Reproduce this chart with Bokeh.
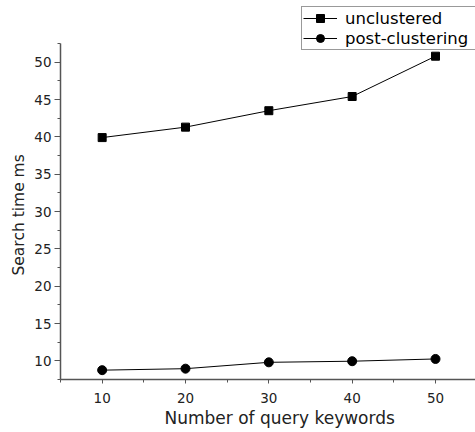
from bokeh.plotting import figure
from bokeh.models import Range1d, FixedTicker, Legend, LegendItem, Title
from bokeh.embed import file_html
from bokeh.resources import INLINE

keywords = [10, 20, 30, 40, 50]
unclustered = [39.9, 41.3, 43.5, 45.4, 50.8]
post_clustering = [8.75, 8.95, 9.8, 9.95, 10.25]

x_major = [10, 20, 30, 40, 50]
x_minor = [5, 15, 25, 35, 45, 55]
y_major = [10, 15, 20, 25, 30, 35, 40, 45, 50]
y_minor = [7.5, 12.5, 17.5, 22.5, 27.5, 32.5, 37.5, 42.5, 47.5, 52.5]

FONT = "DejaVu Sans"
AXIS_COL = "#555555"
TEXT_COL = "#222222"

W, H = 475, 432
LEFT, BOTTOM = 60, 53
Y_LO, Y_HI = 7.5, 52.5
AXIS_PX = 336  # pixel length of the drawn y axis
frame_h = H - BOTTOM
y_top = Y_LO + (Y_HI - Y_LO) * frame_h / AXIS_PX

p = figure(width=W, height=H, output_backend="svg", toolbar_location=None,
           x_range=Range1d(5, 54.8), y_range=Range1d(Y_LO, y_top),
           min_border_left=LEFT, min_border_right=0, min_border_top=0, min_border_bottom=BOTTOM)
p.outline_line_color = None
p.xgrid.visible = False
p.ygrid.visible = False

p.xaxis.ticker = FixedTicker(ticks=x_major, minor_ticks=x_minor)
p.yaxis.ticker = FixedTicker(ticks=y_major, minor_ticks=y_minor)
p.yaxis.bounds = (Y_LO, Y_HI)

for ax in (p.xaxis, p.yaxis):
    ax.axis_line_color = AXIS_COL
    ax.axis_line_width = 1.5
    ax.major_tick_line_color = AXIS_COL
    ax.minor_tick_line_color = AXIS_COL
    ax.major_tick_in = 0
    ax.minor_tick_in = 0
    ax.major_label_text_font = FONT
    ax.major_label_text_font_size = "13.5px"
    ax.major_label_text_color = TEXT_COL

p.yaxis.major_tick_out = 6
p.yaxis.minor_tick_out = 3
p.xaxis.major_tick_out = 4
p.xaxis.minor_tick_out = 3
p.yaxis.major_label_standoff = 3
p.xaxis.major_label_standoff = 9

ylabel = Title(text="Search time ms", align="left", offset=104, vertical_align="middle",
               text_font=FONT, text_font_size="15.5px", text_font_style="normal",
               text_color=TEXT_COL, standoff=6)
p.add_layout(ylabel, "left")

xlabel = Title(text="Number of query keywords", align="left", offset=104, vertical_align="top",
               text_font=FONT, text_font_size="17px", text_font_style="normal",
               text_color=TEXT_COL, standoff=4)
p.add_layout(xlabel, "below")

l1 = p.line(keywords, unclustered, line_color="black", line_width=1)
s1 = p.scatter(keywords, unclustered, marker="square", size=8, fill_color="black", line_color="black")
l2 = p.line(keywords, post_clustering, line_color="black", line_width=1)
s2 = p.scatter(keywords, post_clustering, marker="circle", size=9, fill_color="black", line_color="black")

legend = Legend(items=[LegendItem(label="unclustered", renderers=[l1, s1]),
                       LegendItem(label="post-clustering", renderers=[l2, s2])],
                location=(241, 329), orientation="vertical",
                border_line_color="#333333", border_line_width=1,
                background_fill_color="white", background_fill_alpha=1,
                padding=1, margin=0, spacing=0,
                glyph_width=34, glyph_height=20, label_height=20, label_standoff=8,
                label_width=135,
                label_text_font=FONT, label_text_font_size="16.5px", label_text_color="black")
p.add_layout(legend, "center")

open("out.html", "w").write(file_html(p, INLINE))
